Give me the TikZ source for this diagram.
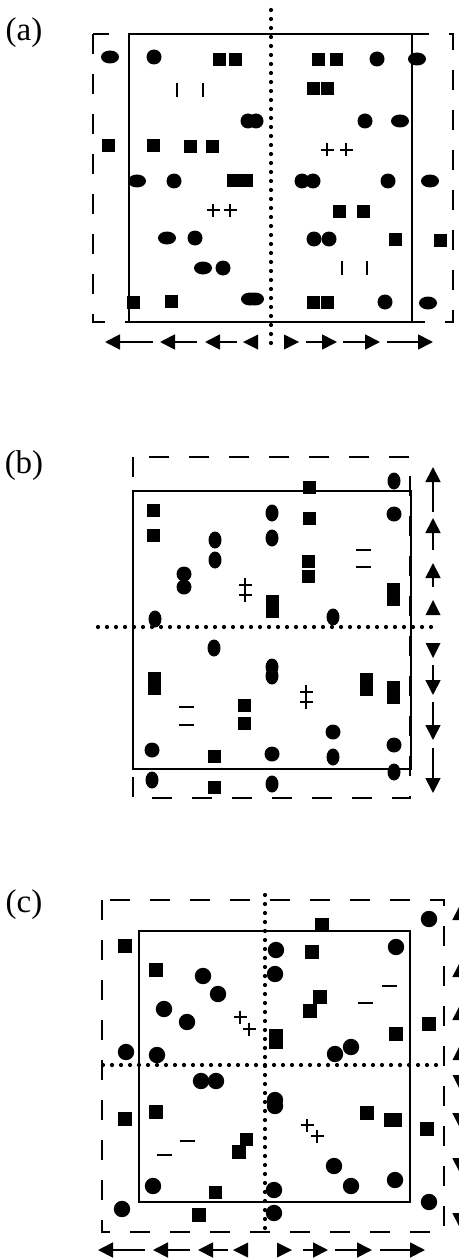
\documentclass[tikz,border=0pt]{standalone}
\usepackage{fontspec}
\setmainfont{Liberation Serif}
\usetikzlibrary{arrows.meta}
\tikzset{
  box/.style={line width=2.6pt},
  frame/.style={line width=2.2pt, dash pattern=on 20pt off 20pt},
  axis/.style={line width=4.2pt, line cap=round, dash pattern=on 0pt off 9pt},
  arr/.style={line width=1.8pt, -{Triangle[length=15pt,width=15pt]}},
  lbl/.style={font=\fontsize{33}{33}\selectfont, inner sep=0pt},
  circ/.pic={\fill (0,0) circle (7.5);},
  Circ/.pic={\fill (0,0) circle (8.2);},
  hel/.pic={\fill (0,0) ellipse (9 and 6.5);},
  vel/.pic={\fill (0,0) ellipse (6.5 and 8.5);},
  sq/.pic={\fill (-6.5,-6.5) rectangle (6.5,6.5);},
  Sq/.pic={\fill (-7.2,-7.2) rectangle (7.2,7.2);},
  tall/.pic={\fill (-6.5,-11.5) rectangle (6.5,11.5);},
  plus/.pic={\draw[line width=2pt] (-6.5,0) -- (6.5,0) (0,-6.5) -- (0,6.5);},
  bar/.pic={\draw[line width=2.4pt] (0,-7) -- (0,7);},
  dash/.pic={\draw[line width=2.4pt] (-7.5,0) -- (7.5,0);},
  dag/.pic={\draw[line width=2pt] (0,-12) -- (0,12) (-6.5,-5) -- (6.5,-5) (-6.5,5) -- (6.5,5);},
}
\begin{document}
\begin{tikzpicture}[x=1pt,y=-1pt]
\useasboundingbox (0,0) rectangle (458,1260);

% ---------------- panel (a) ----------------
\node[lbl] (la) at (24,33) {(a)};
\draw[axis] (271,10) -- (271,350);
\draw[frame] (93,34) rectangle (453,322);
\draw[box] (129,34) rectangle (412,322);
% left half
\pic at (110,57) {hel};
\pic at (154,57) {circ};
\pic at (219,60) {sq}; \pic at (235,60) {sq};
\pic at (177,90) {bar}; \pic at (203,90) {bar};
\pic at (248,121) {circ}; \pic at (256,121) {circ};
\pic at (108,146) {sq}; \pic at (153,146) {sq}; \pic at (190,147) {sq}; \pic at (212,147) {sq};
\pic at (137,181) {hel}; \pic at (174,181) {circ};
\pic at (233,181) {sq}; \pic at (246,181) {sq};
\pic at (213,210) {plus}; \pic at (230,210) {plus};
\pic at (167,238) {hel}; \pic at (195,238) {circ};
\pic at (203,268) {hel}; \pic at (223,268) {circ};
\pic at (133,302) {sq}; \pic at (171,301) {sq};
\pic at (250,299) {hel}; \pic at (255,299) {hel};
% right half
\pic at (318,60) {sq}; \pic at (336,60) {sq};
\pic at (377,59) {circ}; \pic at (417,59) {hel};
\pic at (313,89) {sq}; \pic at (327,89) {sq};
\pic at (365,121) {circ}; \pic at (400,121) {hel};
\pic at (327,150) {plus}; \pic at (346,150) {plus};
\pic at (302,181) {circ}; \pic at (313,181) {circ};
\pic at (388,181) {circ}; \pic at (430,181) {hel};
\pic at (339,211) {sq}; \pic at (363,211) {sq};
\pic at (314,239) {circ}; \pic at (329,239) {circ};
\pic at (395,239) {sq}; \pic at (440,240) {sq};
\pic at (342,268) {bar}; \pic at (367,268) {bar};
\pic at (313,302) {sq}; \pic at (327,302) {sq};
\pic at (385,302) {circ}; \pic at (428,303) {hel};
% flow arrows
\draw[arr] (153,342) -- (105,342);
\draw[arr] (197,342) -- (160,342);
\draw[arr] (237,342) -- (205,342);
\fill (243,342) -- (258,334.5) -- (258,349.5) -- cycle;
\fill (299,342) -- (284,334.5) -- (284,349.5) -- cycle;
\draw[arr] (306,342) -- (337,342);
\draw[arr] (343,342) -- (380,342);
\draw[arr] (387,342) -- (433,342);

% ---------------- panel (b) ----------------
\node[lbl] (lb) at (24,466) {(b)};
\draw[axis] (98,627) -- (433,627);
\draw[frame] (133,457) rectangle (410,798);
\draw[box] (133,491) rectangle (411,769);
\pic at (309,487) {sq};
\pic at (394,481) {vel};
\pic at (153,510) {sq}; \pic at (153,535) {sq};
\pic at (272,513) {vel}; \pic at (272,538) {vel};
\pic at (309,518) {sq};
\pic at (394,514) {circ};
\pic at (215,540) {vel}; \pic at (215,560) {vel};
\pic at (184,574) {circ}; \pic at (184,587) {circ};
\pic at (308,561) {sq}; \pic at (308,576) {sq};
\pic at (363,550) {dash}; \pic at (363,567) {dash};
\pic at (245,590) {dag};
\pic at (272,606) {tall};
\pic at (393,594) {tall};
\pic at (155,619) {vel};
\pic at (333,617) {vel};
\pic at (214,648) {vel};
\pic at (272,667) {vel}; \pic at (272,676) {vel};
\pic at (154,683) {tall};
\pic at (186,707) {dash}; \pic at (186,725) {dash};
\pic at (244,705) {sq}; \pic at (244,723) {sq};
\pic at (306,697) {dag};
\pic at (366,684) {tall};
\pic at (393,692) {tall};
\pic at (333,732) {circ};
\pic at (333,757) {vel};
\pic at (152,750) {circ};
\pic at (214,756) {sq};
\pic at (272,754) {circ};
\pic at (394,745) {circ};
\pic at (152,780) {vel};
\pic at (214,787) {sq};
\pic at (272,784) {vel};
\pic at (394,772) {vel};
% flow arrows
\draw[arr] (433,512) -- (433,467);
\draw[arr] (433,550) -- (433,518);
\draw[arr] (433,587) -- (433,563);
\fill (433,600) -- (425.5,615) -- (440.5,615) -- cycle;
\fill (433,658) -- (425.5,643) -- (440.5,643) -- cycle;
\draw[arr] (433,665) -- (433,695);
\draw[arr] (433,702) -- (433,740);
\draw[arr] (433,748) -- (433,793);

% ---------------- panel (c) ----------------
\node[lbl] (lc) at (24,905) {(c)};
\draw[axis] (265,895) -- (265,1232);
\draw[axis] (103,1065) -- (440,1065);
\draw[frame] (102,900) rectangle (444,1232);
\draw[box] (139,931) rectangle (410,1202);
\pic at (429,919) {Circ};
\pic at (322,925) {Sq};
\pic at (125,946) {Sq};
\pic at (276,950) {Circ}; \pic at (275,974) {Circ};
\pic at (312,952) {Sq};
\pic at (396,947) {Circ};
\pic at (156,970) {Sq};
\pic at (203,976) {Circ}; \pic at (218,994) {Circ};
\pic at (389,986) {dash}; \pic at (365,1003) {dash};
\pic at (320,997) {Sq}; \pic at (310,1011) {Sq};
\pic at (164,1009) {Circ}; \pic at (187,1022) {Circ};
\pic at (240,1017) {plus}; \pic at (249,1029) {plus};
\pic at (429,1024) {Sq};
\pic at (276,1036) {Sq}; \pic at (276,1042) {Sq};
\pic at (396,1034) {Sq};
\pic at (126,1052) {Circ}; \pic at (157,1055) {Circ};
\pic at (335,1054) {Circ}; \pic at (351,1047) {Circ};
\pic at (201,1081) {Circ}; \pic at (216,1081) {Circ};
\pic at (275,1100) {Circ}; \pic at (275,1106) {Circ};
\pic at (125,1119) {Sq}; \pic at (156,1112) {Sq};
\pic at (367,1113) {Sq};
\pic at (391,1120) {Sq}; \pic at (395,1120) {Sq};
\pic at (427,1129) {Sq};
\pic at (307,1125) {plus}; \pic at (317,1136) {plus};
\pic at (187,1141) {dash}; \pic at (164,1155) {dash};
\pic at (246,1139) {sq}; \pic at (239,1152) {Sq};
\pic at (334,1166) {Circ}; \pic at (351,1186) {Circ};
\pic at (395,1180) {Circ};
\pic at (153,1186) {Circ};
\pic at (215,1192) {sq};
\pic at (274,1190) {Circ};
\pic at (122,1209) {Circ};
\pic at (199,1215) {Sq};
\pic at (274,1213) {Circ};
\pic at (429,1202) {Circ};
% flow arrows, bottom row
\draw[arr] (145,1250) -- (98,1250);
\draw[arr] (190,1250) -- (153,1250);
\draw[arr] (228,1250) -- (198,1250);
\fill (233,1250) -- (248,1242.5) -- (248,1257.5) -- cycle;
\fill (292,1250) -- (277,1242.5) -- (277,1257.5) -- cycle;
\draw[arr] (303,1250) -- (328,1250);
\draw[arr] (335,1250) -- (372,1250);
\draw[arr] (380,1250) -- (425,1250);
% flow arrows, right column (running past the edge)
\draw[arr] (460,953) -- (460,905);
\draw[arr] (460,998) -- (460,962);
\draw[arr] (460,1035) -- (460,1005);
\fill (460,1045) -- (452.5,1060) -- (467.5,1060) -- cycle;
\fill (460,1090) -- (452.5,1075) -- (467.5,1075) -- cycle;
\draw[arr] (460,1098) -- (460,1128);
\draw[arr] (460,1135) -- (460,1173);
\draw[arr] (460,1180) -- (460,1228);
\end{tikzpicture}
\end{document}
